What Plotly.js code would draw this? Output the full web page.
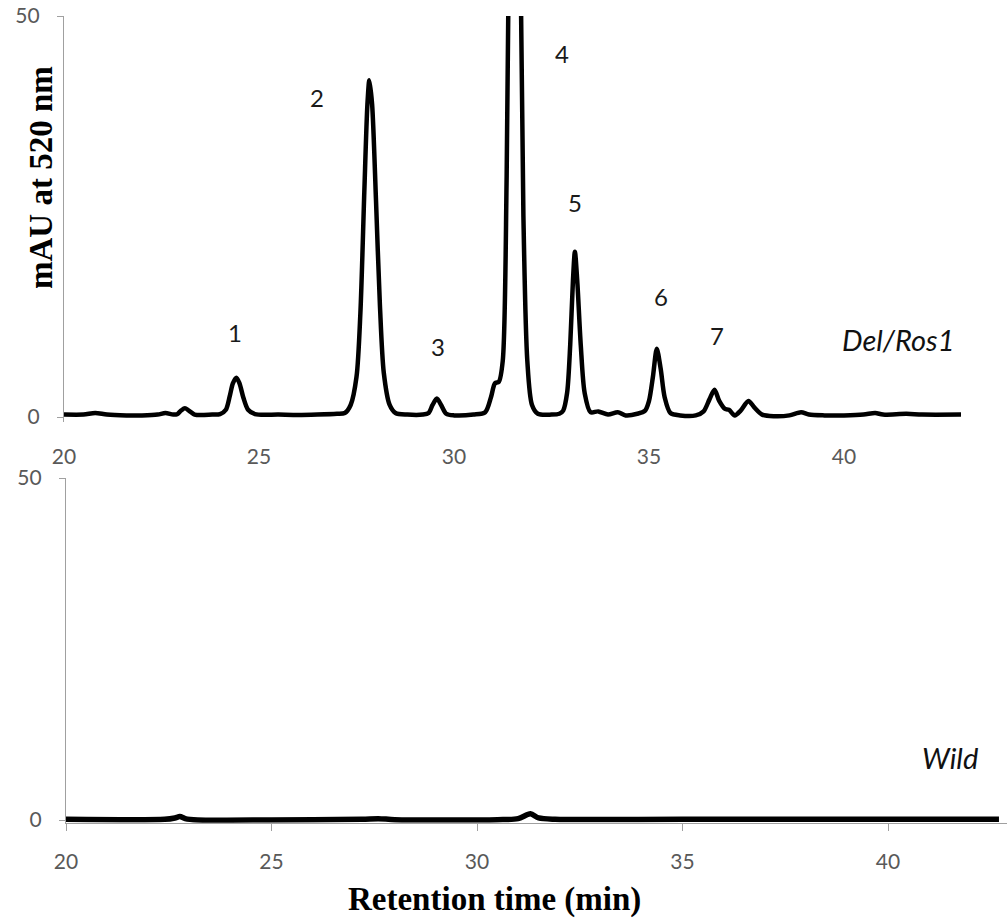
<!DOCTYPE html>
<html>
<head>
<meta charset="utf-8">
<script src="https://cdn.plot.ly/plotly-3.0.1.min.js"></script>
<style>
  html, body { margin: 0; padding: 0; background: #fff; }
  #chart { width: 1008px; height: 923px; }
</style>
</head>
<body>
<div id="chart"></div>
<script>
// ---- Data ----
// Del/Ros1 chromatogram (retention time in min, absorbance in mAU)
const delRosTime = [20.0, 20.5, 20.8, 21.1, 21.6, 22.0, 22.4, 22.6, 22.8, 22.9, 23.0, 23.1, 23.2, 23.35, 23.8,
  24.0, 24.15, 24.25, 24.33, 24.42, 24.5, 24.6, 24.72, 24.9, 25.5, 26.0, 26.5, 27.0,
  27.2, 27.35, 27.5, 27.6, 27.7, 27.78, 27.83, 27.9, 28.0, 28.1, 28.2, 28.35, 28.5, 28.8,
  29.2, 29.35, 29.45, 29.56, 29.68, 29.8, 30.0, 30.5, 30.8, 30.95, 31.05, 31.15, 31.25,
  31.35, 31.45, 31.56, 31.68, 31.78, 31.88, 32.0, 32.15, 32.5, 32.7,
  32.8, 32.9, 32.98, 33.05, 33.1, 33.16, 33.25, 33.35, 33.5, 33.7, 33.95, 34.2, 34.4, 34.7,
  34.9, 35.0, 35.1, 35.2, 35.3, 35.4, 35.55, 35.8, 36.2, 36.4, 36.55, 36.68, 36.8, 36.95, 37.05,
  37.2, 37.35, 37.55, 37.7, 37.9, 38.2, 38.6, 38.9, 39.1, 39.5, 40.0, 40.5, 40.8, 41.0, 41.6, 42.0, 43.0];
const delRosAbs = [0.3, 0.3, 0.5, 0.3, 0.2, 0.2, 0.3, 0.5, 0.3, 0.35, 0.8, 1.1, 0.8, 0.3, 0.3,
  0.35, 0.9, 2.6, 4.2, 4.9, 4.2, 2.4, 0.9, 0.35, 0.3, 0.25, 0.3, 0.4,
  0.5, 1.5, 5.0, 13.0, 28.0, 39.0, 42.0, 39.0, 27.0, 14.0, 5.5, 1.5, 0.5, 0.3,
  0.3, 0.5, 1.5, 2.3, 1.4, 0.4, 0.2, 0.3, 0.6, 2.5, 4.2, 4.4, 7.0,
  30.0, 80.0, 110.0, 70.0, 25.0, 7.0, 1.5, 0.4, 0.3, 0.4,
  0.8, 3.0, 9.0, 17.0, 20.6, 17.0, 9.0, 3.0, 0.6, 0.7, 0.3, 0.6, 0.2, 0.4,
  0.8, 2.0, 5.0, 8.5, 6.0, 2.5, 0.5, 0.2, 0.2, 0.7, 2.2, 3.4, 2.0, 1.0, 0.9,
  0.2, 0.8, 2.0, 1.2, 0.3, 0.1, 0.2, 0.6, 0.3, 0.2, 0.2, 0.3, 0.5, 0.3, 0.4, 0.3, 0.3];

// Wild chromatogram
const wildTime = [20.0, 22.4, 22.65, 22.77, 22.9, 23.2, 25.0, 27.2, 27.6, 28.0, 30.5, 31.0, 31.3, 31.5, 31.9, 35.0, 40.0, 42.7];
const wildAbs  = [0.1, 0.1, 0.3, 0.5, 0.2, 0.0, 0.0, 0.1, 0.2, 0.05, 0.05, 0.2, 0.9, 0.3, 0.1, 0.1, 0.1, 0.1];

// Peak labels
const peakLabels = ["1", "2", "3", "4", "5", "6", "7"];
const peakLabelTime = [24.38, 26.49, 29.59, 32.77, 33.10, 35.31, 36.74];
const peakLabelAbs  = [10.5, 39.9, 8.85, 45.3, 26.7, 15.0, 10.2];

const seriesNames = ["Del/Ros1", "Wild"];
const xTicks = [20, 25, 30, 35, 40];
const yTicks = [0, 50];
const xTitle = "Retention time (min)";
const yTitle = "mAU at 520 nm";

// ---- Layout helpers (pixels -> paper fractions) ----
const W = 1008, H = 923;
const px = v => v / W;
const py = v => 1 - v / H;

const tickFont = {family: "Lato, 'Open Sans', sans-serif", size: 21, color: "#595959"};
const axisGray = "#a0a0a0";

// top panel: 0 at y=417px, 50 at y=16px (8.02 px per mAU); range extended slightly below 0
const topLow = -0.6, topBottomPx = 417 - topLow * 8.02;
// bottom panel: 0 at y=820px, 50 at y=478px (6.84 px per mAU)
const botLow = -0.4, botBottomPx = 820 - botLow * 6.84;

const traces = [
  {x: delRosTime, y: delRosAbs, xaxis: "x", yaxis: "y", type: "scatter", mode: "lines",
   name: seriesNames[0], line: {color: "#000", width: 4.5, shape: "spline", smoothing: 0.8}, hoverinfo: "x+y"},
  {x: wildTime, y: wildAbs, xaxis: "x2", yaxis: "y2", type: "scatter", mode: "lines",
   name: seriesNames[1], line: {color: "#000", width: 5.5, shape: "spline", smoothing: 0.8}, hoverinfo: "x+y"}
];

const annotations = peakLabels.map((t, i) => ({
  text: t, x: peakLabelTime[i], y: peakLabelAbs[i], xref: "x", yref: "y",
  showarrow: false, xanchor: "center", yanchor: "middle",
  font: {family: "Lato, sans-serif", size: 24, color: "#1a1a1a"}
}));
annotations.push({
  text: "<i>" + seriesNames[0] + "</i>", x: 41.38, y: 9.7, xref: "x", yref: "y",
  showarrow: false, xanchor: "center", yanchor: "middle",
  font: {family: "Lato, sans-serif", size: 29, color: "#111"}
});
annotations.push({
  text: "<i>" + seriesNames[1] + "</i>", x: 41.51, y: 9.2, xref: "x2", yref: "y2",
  showarrow: false, xanchor: "center", yanchor: "middle",
  font: {family: "Lato, sans-serif", size: 29, color: "#111"}
});
annotations.push({
  text: "<b>" + yTitle + "</b>", x: px(41), y: py(178), xref: "paper", yref: "paper",
  showarrow: false, textangle: -90, xanchor: "center", yanchor: "middle",
  font: {family: "'Liberation Serif', 'Times New Roman', serif", size: 33, color: "#000"}
});
annotations.push({
  text: "<b>" + xTitle + "</b>", x: px(494), y: py(899), xref: "paper", yref: "paper",
  showarrow: false, xanchor: "center", yanchor: "middle",
  font: {family: "'Liberation Serif', 'Times New Roman', serif", size: 33, color: "#000"}
});

const layout = {
  width: W, height: H,
  margin: {l: 0, r: 0, t: 0, b: 0},
  paper_bgcolor: "#fff", plot_bgcolor: "rgba(0,0,0,0)",
  showlegend: false,
  xaxis: {
    domain: [px(64), px(970)], range: [20, 20 + (970 - 64) / 39], anchor: "y",
    tickmode: "array", tickvals: xTicks, ticks: "", showline: false, showgrid: false, zeroline: false,
    tickfont: tickFont, ticklabelstandoff: 20
  },
  yaxis: {
    domain: [py(topBottomPx), py(16)], range: [topLow, 50], anchor: "x",
    tickmode: "array", tickvals: yTicks, ticks: "outside", ticklen: 6, tickcolor: axisGray,
    showline: true, linecolor: axisGray, linewidth: 1.2, showgrid: false, zeroline: false,
    tickfont: tickFont, ticklabelstandoff: 13
  },
  xaxis2: {
    domain: [px(66), px(1007)], range: [20, 20 + (1007 - 66) / 41.1], anchor: "y2",
    tickmode: "array", tickvals: xTicks, ticks: "outside", ticklen: 7, tickcolor: axisGray,
    showline: true, linecolor: axisGray, linewidth: 1.2, showgrid: false, zeroline: false,
    tickfont: tickFont, ticklabelstandoff: 13
  },
  yaxis2: {
    domain: [py(botBottomPx), py(478)], range: [botLow, 50], anchor: "x2",
    tickmode: "array", tickvals: yTicks, ticks: "outside", ticklen: 6, tickcolor: axisGray,
    showline: true, linecolor: axisGray, linewidth: 1.2, showgrid: false, zeroline: false,
    tickfont: tickFont, ticklabelstandoff: 13
  },
  annotations: annotations
};

Plotly.newPlot("chart", traces, layout, {displayModeBar: false, staticPlot: true});
</script>
</body>
</html>
